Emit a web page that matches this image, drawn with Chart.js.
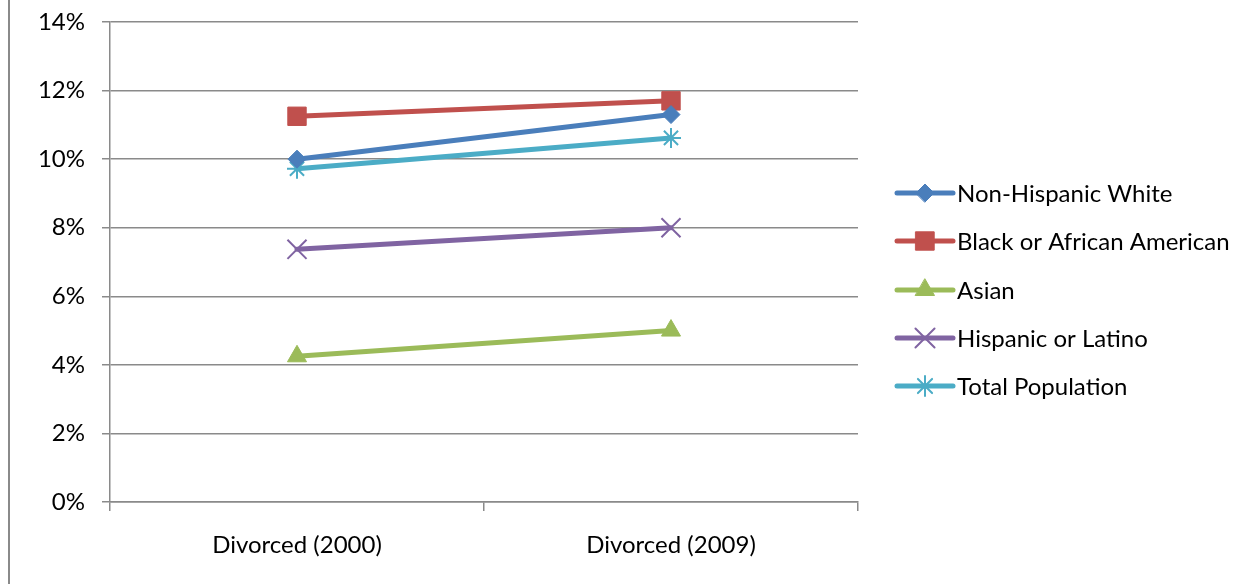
<!DOCTYPE html>
<html>
<head>
<meta charset="utf-8">
<script src="https://cdn.jsdelivr.net/npm/chart.js@4/dist/chart.umd.min.js"></script>
<style>
  html, body { margin: 0; padding: 0; background: #ffffff; }
  #wrap { width: 1257px; height: 584px; position: relative; }
</style>
</head>
<body>
<div id="wrap"><canvas id="chart"></canvas></div>
<script>
// Share of each group that is divorced, in percent
const categories = ['Divorced (2000)', 'Divorced (2009)'];
const nonHispanicWhite = [10.0, 11.3];
const blackAfricanAmerican = [11.25, 11.7];
const asian = [4.25, 5.0];
const hispanicLatino = [7.37, 8.0];
const totalPopulation = [9.72, 10.62];
const yTicks = [0, 2, 4, 6, 8, 10, 12, 14];

const FONT = 'Lato, "Open Sans", "DejaVu Sans", sans-serif';
const FONT_SIZE = 24;
const GRID = '#8a8a8a';

const seriesDefs = [
  { label: 'Non-Hispanic White', data: nonHispanicWhite, color: '#4a7ebb', style: 'rectRot', radius: 9, fill: true },
  { label: 'Black or African American', data: blackAfricanAmerican, color: '#c0504d', style: 'rect', radius: 13, fill: true },
  { label: 'Asian', data: asian, color: '#9bbb59', style: 'triangle', radius: 11, fill: true },
  { label: 'Hispanic or Latino', data: hispanicLatino, color: '#8064a2', style: 'crossRot', radius: 13.5, fill: false },
  { label: 'Total Population', data: totalPopulation, color: '#4bacc6', style: 'star', radius: 10, fill: false }
];

const datasets = seriesDefs.map(s => ({
  label: s.label,
  data: s.data,
  borderColor: s.color,
  backgroundColor: s.color,
  borderWidth: 5,
  borderCapStyle: 'round',
  borderJoinStyle: 'round',
  pointStyle: s.style,
  pointRadius: s.radius,
  pointHoverRadius: s.radius,
  pointBackgroundColor: s.color,
  pointBorderColor: s.color,
  pointBorderWidth: s.fill ? 1 : 2,
  tension: 0
}));

// Left frame edge of the chart area
const framePlugin = {
  id: 'frame',
  beforeDraw(chart) {
    const ctx = chart.ctx;
    ctx.save();
    ctx.strokeStyle = '#8a8a8a';
    ctx.lineWidth = 2;
    ctx.beginPath();
    ctx.moveTo(9, 0);
    ctx.lineTo(9, chart.height);
    ctx.stroke();
    ctx.restore();
  }
};

// Legend on the right: a short line with the series marker, then the name
const lineLegendPlugin = {
  id: 'lineLegend',
  afterDraw(chart) {
    const ctx = chart.ctx;
    const x0 = 897, x1 = 953, textX = 957;
    const rowY = [193, 241, 290, 338, 386];
    ctx.save();
    chart.data.datasets.forEach((ds, i) => {
      const y = rowY[i];
      const def = seriesDefs[i];
      ctx.strokeStyle = ds.borderColor;
      ctx.lineWidth = ds.borderWidth;
      ctx.lineCap = 'round';
      ctx.beginPath();
      ctx.moveTo(x0, y);
      ctx.lineTo(x1, y);
      ctx.stroke();
      ctx.fillStyle = ds.pointBackgroundColor;
      ctx.strokeStyle = ds.pointBorderColor;
      ctx.lineWidth = ds.pointBorderWidth;
      Chart.helpers.drawPoint(ctx, {
        pointStyle: ds.pointStyle, rotation: 0, radius: def.radius, borderWidth: ds.pointBorderWidth
      }, (x0 + x1) / 2, y);
      ctx.fillStyle = '#000000';
      ctx.font = FONT_SIZE + 'px ' + FONT;
      ctx.textAlign = 'left';
      ctx.textBaseline = 'middle';
      ctx.fillText(ds.label, textX, y + 1);
    });
    ctx.restore();
  }
};

new Chart(document.getElementById('chart'), {
  type: 'line',
  data: { labels: categories, datasets },
  plugins: [framePlugin, lineLegendPlugin],
  options: {
    responsive: true,
    maintainAspectRatio: false,
    animation: false,
    layout: { padding: { top: 22, right: 399, left: 0, bottom: 0 } },
    plugins: { legend: { display: false }, tooltip: { enabled: false } },
    scales: {
      x: {
        type: 'category',
        offset: true,
        afterFit(scale) { scale.height = 82; scale.paddingLeft = 0; scale.paddingRight = 0; },
        grid: { offset: true, drawOnChartArea: false, drawTicks: true, tickLength: 9, color: GRID, lineWidth: 1.5 },
        border: { color: GRID, width: 1.5 },
        ticks: { color: '#000000', font: { family: FONT, size: FONT_SIZE }, padding: 20, maxRotation: 0 }
      },
      y: {
        min: 0,
        max: 14,
        afterFit(scale) { scale.width = 110; scale.paddingTop = 0; scale.paddingBottom = 0; },
        afterBuildTicks(scale) { scale.ticks = yTicks.map(v => ({ value: v })); },
        grid: { color: GRID, lineWidth: 1.5, tickLength: 8 },
        border: { color: GRID, width: 1.5 },
        ticks: { color: '#000000', font: { family: FONT, size: FONT_SIZE }, padding: 17, callback: v => v + '%' }
      }
    }
  }
});
</script>
</body>
</html>
